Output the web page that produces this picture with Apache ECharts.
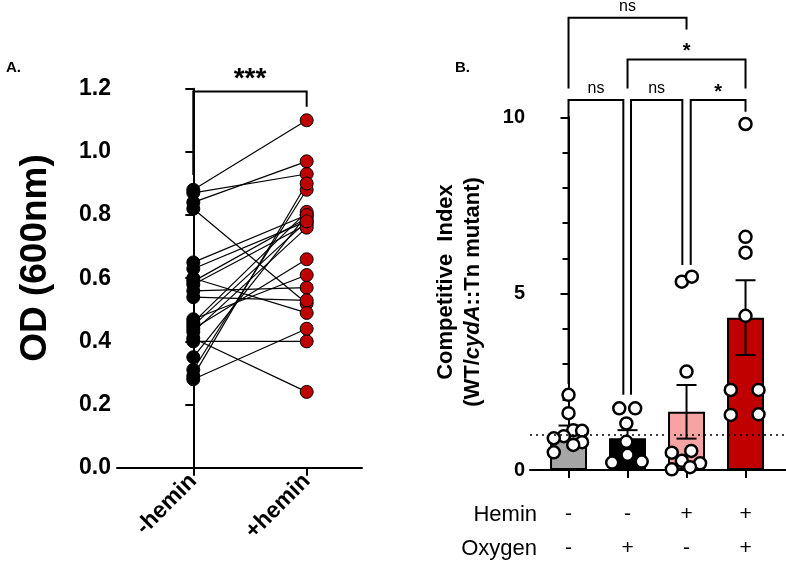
<!DOCTYPE html>
<html><head><meta charset="utf-8">
<script src="https://cdn.jsdelivr.net/npm/echarts@6/dist/echarts.min.js"></script>
<style>html,body{margin:0;padding:0;background:#fff}#c{width:786px;height:579px}</style>
</head><body><div id="c"></div>
<script>
// ---------- Panel A data ----------
const groupsA = ['-hemin', '+hemin'];
const odMinusHemin = [0.88,0.87,0.84,0.82,0.65,0.63,0.60,0.59,0.58,0.56,0.54,0.47,0.46,0.44,0.43,0.41,0.40,0.35,0.31,0.29,0.28,0.45];
const odPlusHemin  = [1.10,0.93,0.97,0.52,0.80,0.78,0.49,0.79,0.77,0.57,0.53,0.61,0.81,0.66,0.76,0.24,0.40,0.80,0.88,0.90,0.44,0.78];
const bracketA = [[0, 1, 1.191, 0.927, 1.143]];
const bracketALabels = ['***'];

// ---------- Panel B data ----------
const heminRow  = ['-', '-', '+', '+'];
const oxygenRow = ['-', '+', '-', '+'];
const barMeans  = [1.07, 0.90, 1.65, 4.32];
const barSEM    = [0.19, 0.23, 0.76, 1.06];
const pointsGray  = [[0,2.13],[0,1.61],[0.08,1.13],[0.23,1.11],[-0.08,0.96],[-0.25,0.90],[0.23,0.79],[0.08,0.71],[-0.25,0.50]];
const pointsBlack = [[0.86,1.75],[1.13,1.75],[0.98,1.32],[0.98,0.80],[1.0,0.43],[0.74,0.21],[1.24,0.24]];
const pointsPink  = [[1.92,5.34],[2.09,5.48],[2.0,2.79],[1.75,0.49],[2.08,0.54],[1.92,0.26],[2.23,0.19],[1.75,0.02],[2.06,0.08]];
const pointsRed   = [[3.0,9.81],[3.0,6.61],[3.0,6.16],[3.0,4.37],[2.75,2.27],[3.22,2.27],[2.75,1.56],[3.22,1.58]];
const bracketsB = [[0,2,12.82,10.82,12.49],[1,3,11.64,10.82,10.82],[0,0.929,10.49,2.44,2.13],[1.059,1.929,10.49,2.13,5.81],[2.071,3.0,10.49,5.81,10.16]];
const bracketsBLabels = ['ns','*','ns','ns','*'];

const FONT = '"Liberation Sans", Arial, Helvetica, sans-serif';
const barColors = ['#a6a6a6', '#000000', '#f5a3a3', '#c00000'];

function bracketRenderer(labels, fontSizes) {
  return function (params, api) {
    const x1 = api.value(0), x2 = api.value(1), yt = api.value(2), yl = api.value(3), yr = api.value(4);
    const pTL = api.coord([x1, yt]), pTR = api.coord([x2, yt]);
    const pBL = api.coord([x1, yl]), pBR = api.coord([x2, yr]);
    const lab = labels[params.dataIndex];
    const isStar = lab.indexOf('*') >= 0;
    return {
      type: 'group',
      children: [
        { type: 'polyline', shape: { points: [pBL, pTL, pTR, pBR] }, style: { stroke: '#000', lineWidth: 2, fill: null } },
        { type: 'text', style: { text: lab, x: (pTL[0] + pTR[0]) / 2, y: pTL[1] - (isStar ? -2 : 3),
          textAlign: 'center', textVerticalAlign: 'bottom', fill: '#000',
          font: (isStar ? 'bold ' : '') + (isStar ? fontSizes[1] : fontSizes[0]) + 'px ' + FONT } }
      ]
    };
  };
}

const chart = echarts.init(document.getElementById('c'), null, { renderer: 'canvas' });
const rowAxis = (offset, row) => ({
  type: 'value', gridIndex: 1, position: 'bottom', min: -0.653, max: 3.686, offset: offset, splitLine: { show: false },
  axisLine: { show: false }, axisTick: { show: false },
  axisLabel: { customValues: [0, 1, 2, 3], formatter: v => row[Math.round(v)], margin: 0,
    color: '#000', fontSize: 21, fontFamily: FONT }
});
const option = {
  animation: false,
  backgroundColor: '#fff',
  grid: [
    { left: 117, top: 88.7, width: 245, height: 379 },
    { left: 530, top: 117.3, width: 256, height: 352.7 }
  ],
  xAxis: [
    { type: 'value', gridIndex: 0, position: 'bottom', min: -0.673, max: 1.488, splitLine: { show: false },
      axisLine: { show: true, lineStyle: { color: '#000', width: 2 } },
      axisTick: { show: true, customValues: [0, 1], length: 8, lineStyle: { color: '#000', width: 2 } },
      axisLabel: { customValues: [0, 1], formatter: v => groupsA[Math.round(v)], rotate: 45, margin: 10,
        color: '#000', fontWeight: 'bold', fontSize: 23, fontFamily: FONT } },
    { type: 'value', gridIndex: 1, position: 'bottom', min: -0.653, max: 3.686, splitLine: { show: false },
      axisLine: { show: true, lineStyle: { color: '#000', width: 2 } },
      axisTick: { show: true, customValues: [0, 1, 2, 3], length: 8, lineStyle: { color: '#000', width: 2 } },
      axisLabel: { show: false } },
    rowAxis(34, heminRow),
    rowAxis(68, oxygenRow)
  ],
  yAxis: [
    { type: 'value', gridIndex: 0, min: 0, max: 1.2, interval: 0.2, splitLine: { show: false },
      axisLine: { show: true, lineStyle: { color: '#000', width: 2 } },
      axisTick: { show: true, length: 8, lineStyle: { color: '#000', width: 2 } },
      axisLabel: { formatter: v => v.toFixed(1), margin: 6, color: '#000', fontWeight: 'bold', fontSize: 23, fontFamily: FONT } },
    { type: 'value', gridIndex: 1, min: 0, max: 10, interval: 5, splitLine: { show: false },
      axisLine: { show: true, lineStyle: { color: '#000', width: 2 } },
      axisTick: { show: true, length: 8, lineStyle: { color: '#000', width: 2 } },
      minorTick: { show: true, splitNumber: 5, length: 6, lineStyle: { color: '#000', width: 2 } },
      axisLabel: { margin: 5, color: '#000', fontWeight: 'bold', fontSize: 20, fontFamily: FONT } }
  ],
  graphic: [
    { type: 'text', x: 6, y: 60, style: { text: 'A.', font: 'bold 15px ' + FONT, fill: '#000' } },
    { type: 'text', x: 455, y: 60, style: { text: 'B.', font: 'bold 15px ' + FONT, fill: '#000' } },
    { type: 'text', x: 36, y: 258, rotation: Math.PI / 2,
      style: { text: 'OD (600nm)', font: 'bold 37px ' + FONT, fill: '#000', textAlign: 'center', textVerticalAlign: 'middle' } },
    { type: 'text', x: 446, y: 282, rotation: Math.PI / 2,
      style: { text: 'Competitive  Index', font: 'bold 22px ' + FONT, fill: '#000', textAlign: 'center', textVerticalAlign: 'middle' } },
    { type: 'text', x: 473, y: 292, rotation: Math.PI / 2,
      style: { text: '{a|(WT/}{b|cydA}{a|::Tn mutant)}', fill: '#000', textAlign: 'center', textVerticalAlign: 'middle',
        rich: { a: { fontWeight: 'bold', fontSize: 22, fontFamily: FONT, fill: '#000' },
                b: { fontWeight: 'bold', fontStyle: 'italic', fontSize: 22, fontFamily: FONT, fill: '#000' } } } },
    { type: 'text', x: 537, y: 515, style: { text: 'Hemin', font: '22px ' + FONT, fill: '#000', textAlign: 'right', textVerticalAlign: 'middle' } },
    { type: 'text', x: 537, y: 549, style: { text: 'Oxygen', font: '22px ' + FONT, fill: '#000', textAlign: 'right', textVerticalAlign: 'middle' } }
  ],
  series: [
    { type: 'custom', xAxisIndex: 0, yAxisIndex: 0, z: 1,
      data: odMinusHemin.map((v, i) => [v, odPlusHemin[i]]),
      renderItem: function (params, api) {
        const p1 = api.coord([0, api.value(0)]), p2 = api.coord([1, api.value(1)]);
        return { type: 'line', shape: { x1: p1[0], y1: p1[1], x2: p2[0], y2: p2[1] }, style: { stroke: '#000', lineWidth: 1.2 } };
      } },
    { type: 'scatter', xAxisIndex: 0, yAxisIndex: 0, z: 3, symbolSize: 13,
      itemStyle: { color: '#000', borderColor: '#000', borderWidth: 1, opacity: 1 },
      data: odMinusHemin.map(v => [0, v]) },
    { type: 'scatter', xAxisIndex: 0, yAxisIndex: 0, z: 3, symbolSize: 13,
      itemStyle: { color: '#c00000', borderColor: '#000', borderWidth: 1, opacity: 1 },
      data: odPlusHemin.map(v => [1, v]) },
    { type: 'custom', xAxisIndex: 0, yAxisIndex: 0, z: 4, data: bracketA,
      renderItem: bracketRenderer(bracketALabels, [16, 28]) },
    { type: 'bar', xAxisIndex: 1, yAxisIndex: 1, z: 2, barWidth: 37,
      itemStyle: { borderColor: '#000', borderWidth: 2 },
      data: barMeans.map((v, i) => ({ value: [i, v], itemStyle: { color: barColors[i] } })),
      markLine: { silent: true, symbol: 'none', label: { show: false },
        lineStyle: { color: '#000', type: [2, 4], width: 1.5 }, data: [{ yAxis: 1 }] } },
    { type: 'custom', xAxisIndex: 1, yAxisIndex: 1, z: 3,
      data: barMeans.map((v, i) => [i, v, barSEM[i]]),
      renderItem: function (params, api) {
        const x = api.value(0), m = api.value(1), s = api.value(2);
        const pt = api.coord([x, m + s]), pb = api.coord([x, m - s]);
        const w = 10;
        const st = { stroke: '#000', lineWidth: 2 };
        return { type: 'group', children: [
          { type: 'line', shape: { x1: pt[0], y1: pt[1], x2: pb[0], y2: pb[1] }, style: st },
          { type: 'line', shape: { x1: pt[0] - w, y1: pt[1], x2: pt[0] + w, y2: pt[1] }, style: st },
          { type: 'line', shape: { x1: pb[0] - w, y1: pb[1], x2: pb[0] + w, y2: pb[1] }, style: st }
        ] };
      } },
    { type: 'scatter', xAxisIndex: 1, yAxisIndex: 1, z: 4, symbolSize: 12,
      itemStyle: { color: '#fff', borderColor: '#000', borderWidth: 2.5, opacity: 1 },
      data: [].concat(pointsGray, pointsBlack, pointsPink, pointsRed) },
    { type: 'custom', xAxisIndex: 1, yAxisIndex: 1, z: 4, data: bracketsB,
      renderItem: bracketRenderer(bracketsBLabels, [16, 20]) }
  ]
};
chart.setOption(option);
</script>
</body></html>
